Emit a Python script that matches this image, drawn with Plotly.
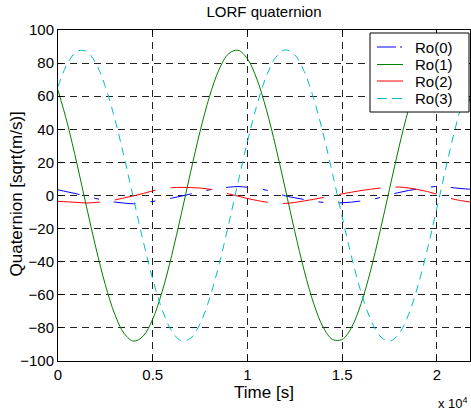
import plotly.graph_objects as go

# ---- data ----
time_s = [0, 500, 1000, 1500, 2000, 2500, 3000, 3500, 4000, 4500,
          5000, 5500, 6000, 6500, 7000, 7500, 8000, 8500, 9000, 9500,
          10000, 10500, 11000, 11500, 12000, 12500, 13000, 13500, 14000, 14500,
          15000, 15500, 16000, 16500, 17000, 17500, 18000, 18500, 19000, 19500,
          20000, 20500, 21000, 21500, 22000]

ro0 = [3.4, 2.2, 1.0, -0.4, -1.8, -3.0, -4.0, -4.6, -5.0, -4.4,
       -3.6, -2.6, -1.6, -0.4, 0.9, 2.2, 3.4, 4.4, 5.0, 5.4,
       5.0, 4.4, 3.2, 1.5, -0.2, -1.4, -2.4, -3.4, -4.2, -4.6,
       -4.4, -4.0, -3.3, -2.6, -1.2, 0.4, 1.8, 3.0, 4.0, 4.8,
       5.5, 5.2, 4.5, 4.0, 3.6]

ro1 = [63.6, 43.3, 19.2, -6.5, -31.6, -54.0, -71.8, -83.5, -88.0, -84.9,
       -74.7, -58.0, -36.3, -11.6, 14.1, 38.7, 59.9, 76.0, 85.6, 87.8,
       82.6, 70.3, 51.9, 29.2, 3.9, -21.7, -45.5, -65.3, -79.6, -87.0,
       -87.0, -79.6, -65.3, -45.5, -21.7, 3.9, 29.2, 51.9, 70.3, 82.6,
       87.0, 87.5, 80.0, 66.0, 47.0]

ro2 = [-3.6, -3.8, -4.2, -4.5, -4.2, -3.6, -2.7, -1.4, -0.2, 1.2,
       2.8, 3.9, 4.7, 4.9, 4.8, 4.5, 3.8, 2.8, 1.0, -0.4,
       -1.8, -3.0, -4.0, -4.4, -4.8, -4.2, -3.3, -2.3, -1.2, -0.1,
       1.0, 2.0, 3.0, 3.8, 4.5, 5.0, 5.1, 4.6, 3.6, 2.4,
       0.8, -1.0, -2.5, -3.5, -4.2]

ro3 = [65.8, 79.8, 87.1, 87.1, 79.8, 65.8, 46.2, 22.8, -2.6, -27.7,
       -50.5, -69.0, -81.8, -87.7, -86.2, -77.5, -62.2, -41.8, -17.8, 7.7,
       32.5, 54.6, 72.1, 83.5, 88.0, 85.0, 74.9, 58.5, 37.2, 12.8,
       -12.8, -37.2, -58.5, -74.9, -85.0, -88.0, -83.5, -72.1, -54.6, -32.5,
       -7.7, 17.8, 41.8, 62.2, 77.5]

series_names = ["Ro(0)", "Ro(1)", "Ro(2)", "Ro(3)"]
x_tick_vals = [0, 5000, 10000, 15000, 20000]
x_tick_text = ["0", "0.5", "1", "1.5", "2"]
y_tick_vals = [-100, -80, -60, -40, -20, 0, 20, 40, 60, 80, 100]

FONT = "Liberation Sans, Arial, Helvetica, sans-serif"

styles = [
    dict(color="#0000FF", dash="22px,15px,5px,15px", key="19px,4px,2px,4px"),
    dict(color="#008000", dash="solid", key="solid"),
    dict(color="#FF0000", dash="42px,15px", key="solid"),
    dict(color="#00BFBF", dash="8px,6px", key="10px,5px"),
]

fig = go.Figure()
for name, ys, st in zip(series_names, [ro0, ro1, ro2, ro3], styles):
    fig.add_trace(go.Scatter(
        x=time_s, y=ys, mode="lines", name=name, showlegend=False,
        line=dict(color=st["color"], width=1, dash=st["dash"], shape="spline", smoothing=1.0),
    ))

# ---- boxed legend in the top-right corner (MATLAB style) ----
PLOT_L, PLOT_T, PLOT_W, PLOT_H = 58, 30, 412, 331
def px_x(p):
    return (p - PLOT_L) / PLOT_W
def px_y(p):
    return (PLOT_T + PLOT_H - p) / PLOT_H

shapes = [dict(type="rect", xref="paper", yref="paper",
               x0=px_x(370), x1=px_x(469), y0=px_y(112), y1=px_y(33),
               fillcolor="white", line=dict(color="black", width=1), layer="above")]
annotations = []
row_y = [47, 64.5, 81, 98.5]
for name, st, ry in zip(series_names, styles, row_y):
    shapes.append(dict(type="line", xref="paper", yref="paper",
                       x0=px_x(377), x1=px_x(403), y0=px_y(ry), y1=px_y(ry),
                       line=dict(color=st["color"], width=1, dash=st["key"]), layer="above"))
    annotations.append(dict(text=name, xref="paper", yref="paper",
                            x=px_x(413), y=px_y(ry), xanchor="left", yanchor="middle",
                            showarrow=False, font=dict(family=FONT, size=15, color="black")))

axis_common = dict(
    showline=True, linecolor="black", linewidth=1, mirror="ticks",
    ticks="inside", ticklen=5, tickcolor="black",
    showgrid=True, gridcolor="#222222", gridwidth=1, griddash="7px,5px",
    zeroline=False,
    tickfont=dict(family=FONT, size=15, color="black"),
)

annotations += [
    dict(text="x 10<sup>4</sup>", xref="paper", yref="paper",
         x=1.0, y=-0.127, xanchor="right", yanchor="middle",
         showarrow=False, font=dict(family=FONT, size=13, color="black")),
    dict(text="Quaternion [sqrt(m/s)]", xref="paper", yref="paper",
         x=px_x(17), y=0.503, xanchor="center", yanchor="middle",
         textangle=-90, showarrow=False,
         font=dict(family=FONT, size=17, color="black")),
]

fig.update_layout(
    width=471, height=416,
    margin=dict(l=PLOT_L, r=1, t=PLOT_T, b=55),
    paper_bgcolor="white", plot_bgcolor="white",
    font=dict(family=FONT, color="black"),
    title=dict(text="LORF quaternion", x=264 / 471, xanchor="center",
               y=1 - 12 / 416, yanchor="middle",
               font=dict(family=FONT, size=15, color="black")),
    xaxis=dict(range=[0, 21750], tickvals=x_tick_vals, ticktext=x_tick_text,
               title=dict(text="Time [s]", font=dict(family=FONT, size=17), standoff=3),
               **axis_common),
    yaxis=dict(range=[-100, 100], tickvals=y_tick_vals, **axis_common),
    showlegend=False,
    shapes=shapes,
    annotations=annotations,
)

fig.write_html("out.html", config={"displayModeBar": False},
               post_script="document.body.style.margin='0px';document.body.style.overflow='hidden';")
